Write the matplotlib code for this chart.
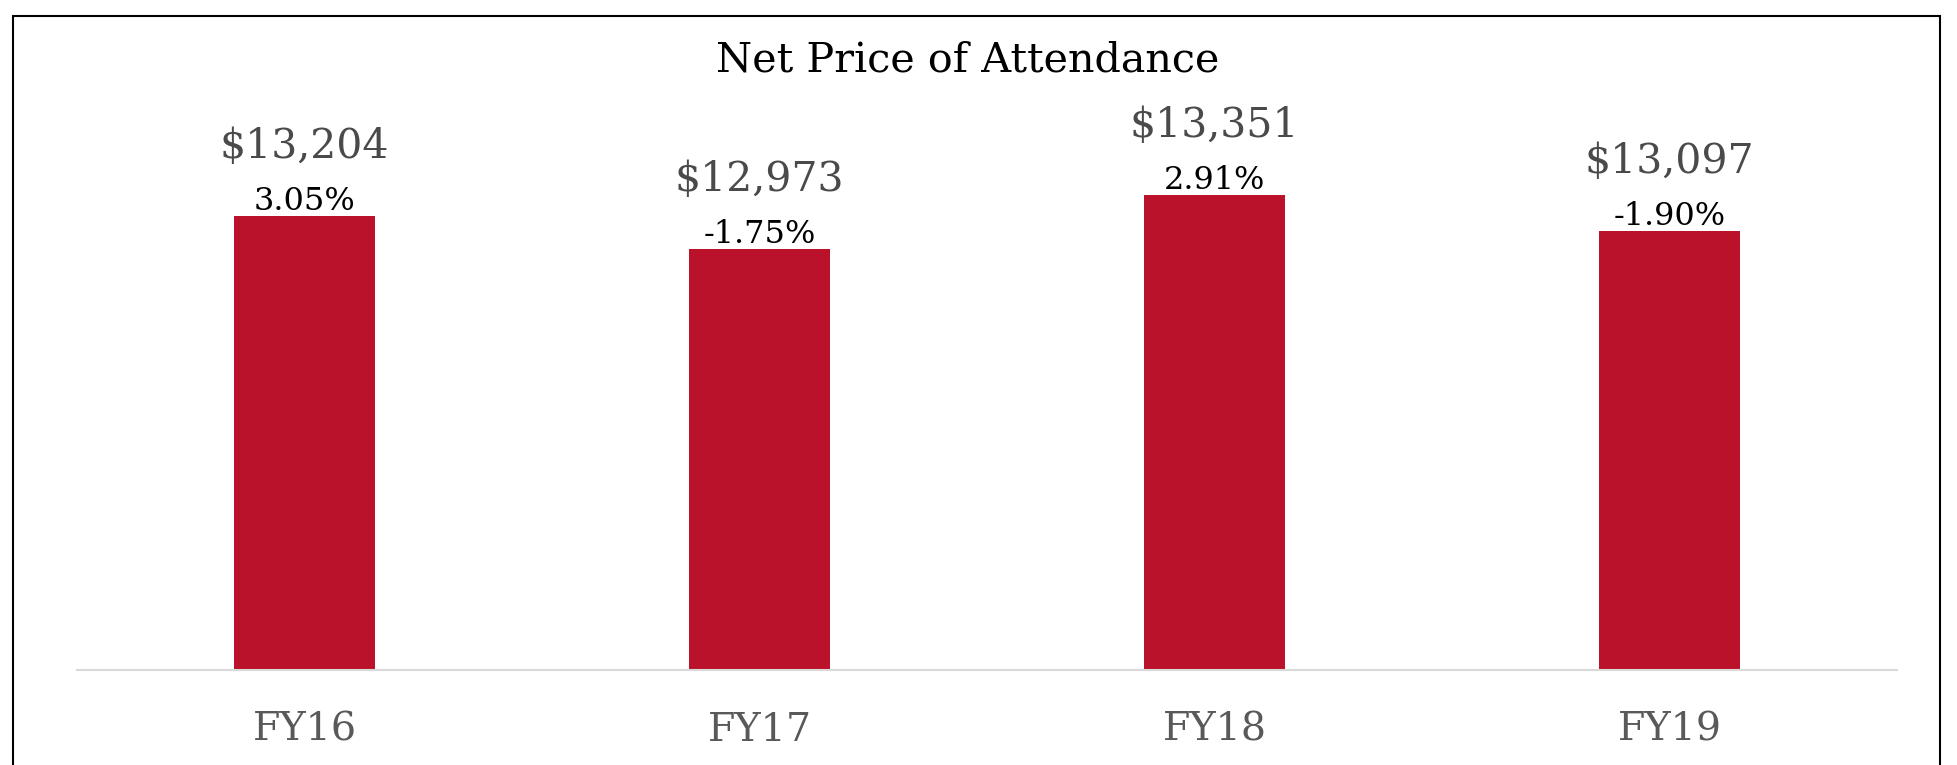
import matplotlib
matplotlib.use("Agg")
import matplotlib.pyplot as plt
from matplotlib.patches import Rectangle

categories = ["FY16", "FY17", "FY18", "FY19"]
values = [13204, 12973, 13351, 13097]
pct_change = ["3.05%", "-1.75%", "2.91%", "-1.90%"]
value_labels = ["$13,204", "$12,973", "$13,351", "$13,097"]

W, H = 1957, 765
fig = plt.figure(figsize=(W / 100, H / 100), dpi=100)
serif = ["DejaVu Serif"]

ax = fig.add_axes([77 / W, 1 - 670 / H, (1897 - 77) / W, (670 - 103) / H])
x = list(range(len(categories)))
ax.bar(x, values, width=0.31, color="#BA122B", zorder=2)
ax.set_xlim(-0.5, 3.5)
ax.set_ylim(10000, 14000)
ax.set_xticks(x)
ax.set_xticklabels(categories, family=serif, fontsize=28.5, color="#595959")
ax.tick_params(axis="x", length=0, pad=30)
ax.set_yticks([])
for s in ["top", "left", "right"]:
    ax.spines[s].set_visible(False)
ax.spines["bottom"].set_color("#d9d9d9")
ax.spines["bottom"].set_linewidth(1.5)

for xi, v, p, vl in zip(x, values, pct_change, value_labels):
    ax.annotate(p, (xi, v), xytext=(0, 4.3), textcoords="offset points",
                ha="center", va="baseline", family=serif, fontsize=23,
                color="black")
    ax.annotate(vl, (xi, v), xytext=(0, 41.5), textcoords="offset points",
                ha="center", va="baseline", family=serif, fontsize=29.5,
                color="#4a4a4a")

fig.text(968 / W, 1 - 60 / H, "Net Price of Attendance", ha="center",
         va="center", family=serif, fontsize=29.8, color="black")

border = Rectangle((12.5 / W, -0.1), (1940 - 12.5) / W, 1.1 - 16 / H,
                   transform=fig.transFigure, fill=False, edgecolor="black",
                   linewidth=1.5, clip_on=False)
fig.patches.append(border)

fig.savefig("out.png", dpi=100)
